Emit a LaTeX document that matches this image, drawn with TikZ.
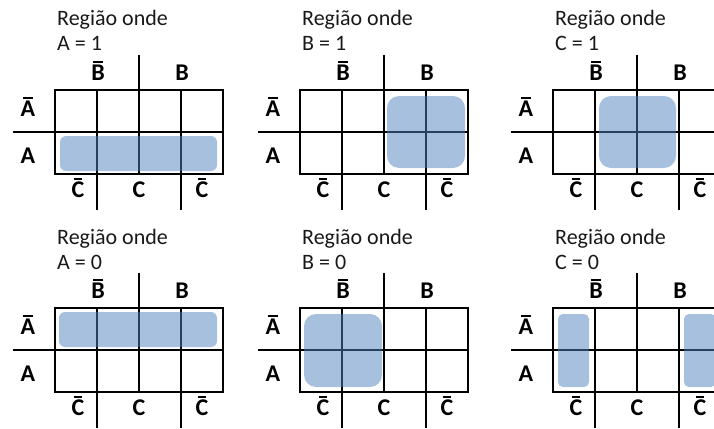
\documentclass[tikz,border=0pt]{standalone}
\usepackage{fontspec}
\setmainfont{Carlito}
\newfontfamily\lblfamily{Carlito}
\newcommand\ovb[1]{\setbox0\hbox{#1}\rlap{\hbox to \wd0{\hss\rule[\dimexpr\ht0+1.7pt\relax]{0.7\wd0}{1.4pt}\hss}}\box0}
\newcommand\lblfont{\lblfamily\bfseries\fontsize{24}{28}\selectfont}
\newcommand\ttlfont{\lblfamily\fontsize{22}{26}\selectfont}
\definecolor{regblue}{HTML}{4F81BD}
\tikzset{
  gridline/.style={line width=1.8pt, black},
  region/.style={fill=regblue, fill opacity=0.5, draw=none},
  titletext/.style={inner sep=0pt, anchor=base west, text=black!90},
  vlabel/.style={inner sep=0pt, anchor=base},
}
\newcommand\kmap[4]{%
  \draw[gridline] (#1,#2) rectangle (#1+168,#2+84);
  \draw[gridline] (#1-42,#2+42) -- (#1+168,#2+42);
  \draw[gridline] (#1+84,#2-35) -- (#1+84,#2+84);
  \draw[gridline] (#1+42,#2) -- (#1+42,#2+120);
  \draw[gridline] (#1+126,#2) -- (#1+126,#2+120);
  \node[titletext] (#3t1) at (#1+2,#2-64) {\ttlfont Região onde};
  \node[titletext] (#3t2) at (#1+2,#2-39) {\ttlfont #4};
  \node[vlabel] (#3nb) at (#1+43,#2-10) {\lblfont\ovb{B}};
  \node[vlabel] (#3b) at (#1+127,#2-10) {\lblfont B};
  \node[vlabel] (#3na) at (#1-27,#2+26) {\lblfont\ovb{A}};
  \node[vlabel] (#3a) at (#1-27,#2+73) {\lblfont A};
  \node[vlabel] (#3nc1) at (#1+23,#2+107) {\lblfont\ovb{C}};
  \node[vlabel] (#3c) at (#1+84,#2+107) {\lblfont C};
  \node[vlabel] (#3nc2) at (#1+147,#2+107) {\lblfont\ovb{C}};
}
\begin{document}
\begin{tikzpicture}[x=1pt,y=-1pt]
\useasboundingbox (0,0) rectangle (714,428);
\clip (0,0) rectangle (714,428);
\kmap{55}{90}{m1}{A = 1}
\kmap{300}{90}{m2}{B = 1}
\kmap{553}{90}{m3}{C = 1}
\kmap{55}{308}{m4}{A = 0}
\kmap{300}{308}{m5}{B = 0}
\kmap{553}{308}{m6}{C = 0}
% regions
\fill[region, rounded corners=6pt] (60,136) rectangle (217,171);
\fill[region, rounded corners=12pt] (387,96) rectangle (465,168);
\fill[region, rounded corners=12pt] (599,96) rectangle (676,168);
\fill[region, rounded corners=6pt] (59,312) rectangle (217,347);
\fill[region, rounded corners=12pt] (304,314) rectangle (382,387);
\fill[region, rounded corners=5pt] (558,314) rectangle (589,387);
\fill[region, rounded corners=5pt] (684,314) rectangle (716,387);
\end{tikzpicture}
\end{document}
